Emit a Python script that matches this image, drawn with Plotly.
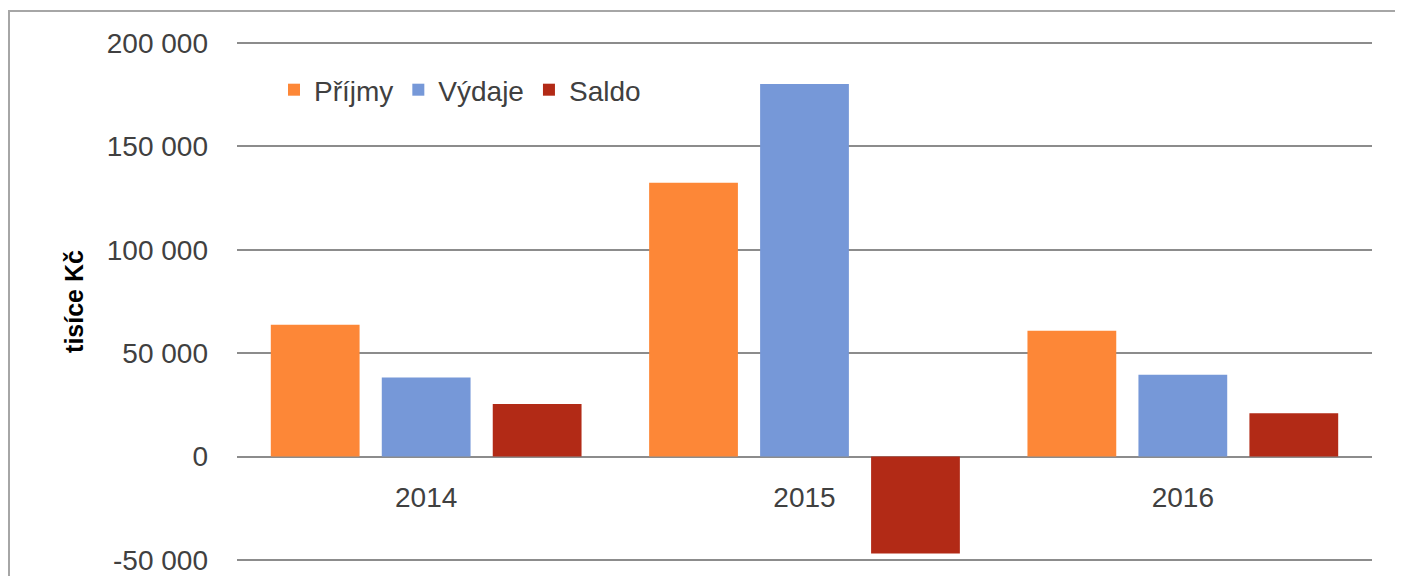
import plotly.graph_objects as go

years = ["2014", "2015", "2016"]
prijmy = [63800, 132400, 60900]
vydaje = [38300, 180200, 39600]
saldo = [25400, -46900, 21000]

series_names = ["Příjmy", "Výdaje", "Saldo"]
colors = ["#FD8737", "#7698D8", "#B22A16"]
y_ticks = [-50000, 0, 50000, 100000, 150000, 200000]
y_tick_text = ["-50 000", "0", "50 000", "100 000", "150 000", "200 000"]
y_range = [-51000, 201000]

# the page body has an 8px margin, so the figure is sized to the visible area
W, H = 1395, 568
ml, mr, mt, mb = 229, 31, 33, 14
PW, PH = W - ml - mr, H - mt - mb
font_family = "Liberation Sans, Arial, sans-serif"

fig = go.Figure()
for name, vals, col in zip(series_names, [prijmy, vydaje, saldo], colors):
    fig.add_trace(go.Bar(x=years, y=vals, name=name, marker=dict(color=col, line=dict(width=0))))

zero_pos = (0 - y_range[0]) / (y_range[1] - y_range[0])

fig.update_layout(
    width=W, height=H,
    margin=dict(l=ml, r=mr, t=mt, b=mb, pad=0, autoexpand=False),
    paper_bgcolor="white", plot_bgcolor="white",
    barmode="group", bargap=0.12, bargroupgap=0.2,
    font=dict(family=font_family, size=28, color="#404040"),
    showlegend=True,
    legend=dict(orientation="h", x=37 / PW, xanchor="left",
                y=(H - mb - 82) / PH, yanchor="middle",
                bgcolor="rgba(0,0,0,0)", font=dict(size=28, color="#404040"),
                itemwidth=30, tracegroupgap=0),
    xaxis=dict(anchor="free", position=zero_pos, showgrid=False, showline=False,
               zeroline=False, ticks="", ticklabelstandoff=21, automargin=False,
               tickfont=dict(size=28, color="#404040")),
    yaxis=dict(range=y_range, tickvals=y_ticks, ticktext=y_tick_text,
               showgrid=True, gridcolor="#8C8C8C", gridwidth=2,
               zeroline=True, zerolinecolor="#8C8C8C", zerolinewidth=2,
               showline=False, ticks="", ticklabelstandoff=28, automargin=False,
               tickfont=dict(size=28, color="#404040"),
               title=dict(text="<b>tisíce Kč</b>", standoff=16,
                          font=dict(size=25, color="#000000"))),
)

# outer chart frame
fig.add_shape(type="rect", xref="paper", yref="paper",
              x0=(1 - ml) / PW, x1=(1392 - ml) / PW,
              y0=-0.2, y1=(H - mb - 3) / PH,
              line=dict(color="#A6A6A6", width=2), fillcolor="rgba(0,0,0,0)", layer="below")

fig.write_html("out.html")
